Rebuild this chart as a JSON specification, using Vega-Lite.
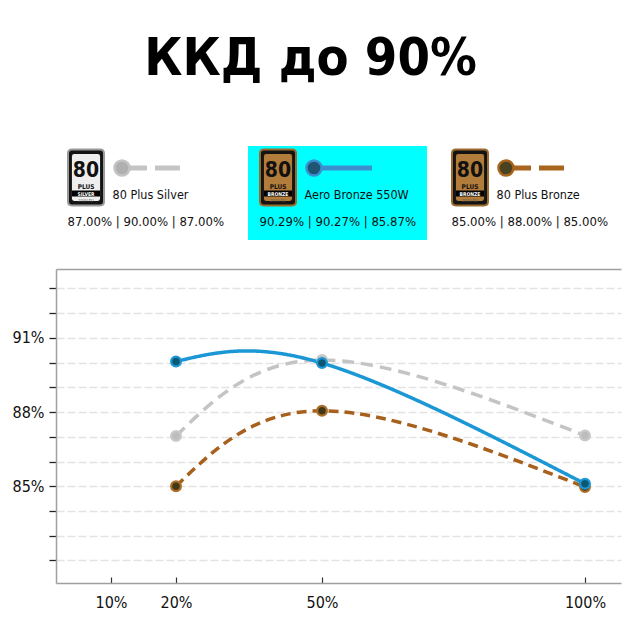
{
  "$schema": "https://vega.github.io/schema/vega-lite/v6.json",
  "background": "white",
  "padding": {"left": 12, "top": 32, "right": 10, "bottom": 10},
  "title": {"text": "ККД до 90%", "fontSize": 52, "font": "DejaVu Sans Condensed, sans-serif", "fontWeight": "bold", "color": "#000000", "anchor": "middle", "frame": "bounds", "dx": -6, "offset": 60},
  "config": {"view": {"stroke": null}},
  "bounds": "flush",
  "spacing": 29,
  "datasets": {
    "eff": [
      {"series": "80 Plus Silver", "load": 20, "eff": 87.03},
      {"series": "80 Plus Silver", "load": 50, "eff": 90.1},
      {"series": "80 Plus Silver", "load": 100, "eff": 87.05},
      {"series": "80 Plus Bronze", "load": 20, "eff": 85.0},
      {"series": "80 Plus Bronze", "load": 50, "eff": 88.05},
      {"series": "80 Plus Bronze", "load": 100, "eff": 84.97},
      {"series": "Aero Bronze 550W", "load": 20, "eff": 90.04},
      {"series": "Aero Bronze 550W", "load": 50, "eff": 89.98},
      {"series": "Aero Bronze 550W", "load": 100, "eff": 85.1}
    ],
    "legend": [
      {"series": "80 Plus Silver", "values": "87.00% | 90.00% | 87.00%", "tier": "SILVER"},
      {"series": "Aero Bronze 550W", "values": "90.29% | 90.27% | 85.87%", "tier": "BRONZE"},
      {"series": "80 Plus Bronze", "values": "85.00% | 88.00% | 85.00%", "tier": "BRONZE"}
    ]
  },
  "vconcat": [
    {
      "width": 563,
      "height": 94,
      "data": {"name": "legend"},
      "encoding": {
        "x": {"field": "series", "type": "nominal", "sort": ["80 Plus Silver", "Aero Bronze 550W", "80 Plus Bronze"], "scale": {"paddingInner": 0.0677, "paddingOuter": 0}, "axis": null}
      },
      "layer": [
        {"transform": [{"filter": "datum.series === 'Aero Bronze 550W'"}], "mark": {"type": "rect", "color": "#00ffff"}},
        {"mark": {"type": "point", "shape": "M-0.5,-1H0.5Q0.643,-1 0.643,-0.86V0.86Q0.643,1 0.5,1H-0.5Q-0.643,1 -0.643,0.86V-0.86Q-0.643,-1 -0.5,-1Z", "size": 3136, "filled": true, "opacity": 1, "strokeWidth": 2, "xOffset": -59.5, "yOffset": -15.5},
         "encoding": {"fill": {"value": "#141414"}, "stroke": {"condition": {"test": "datum.tier === 'SILVER'", "value": "#9a9a9a"}, "value": "#9b6a2c"}}},
        {"mark": {"type": "point", "shape": "M-0.5,-1H0.5Q0.6,-1 0.6,-0.9V0.9Q0.6,1 0.5,1H-0.5Q-0.6,1 -0.6,0.9V-0.9Q-0.6,-1 -0.5,-1Z", "size": 2200, "filled": true, "opacity": 1, "strokeWidth": 0, "xOffset": -59.5, "yOffset": -15.5},
         "encoding": {"fill": {"condition": {"test": "datum.tier === 'SILVER'", "value": "#eeeeee"}, "value": "#b27c3a"}}},
        {"mark": {"type": "point", "shape": "M-1,-0.214H1V0.214H-1Z", "size": 784, "filled": true, "opacity": 1, "strokeWidth": 0, "color": "#000000", "xOffset": -59.5, "yOffset": 0.5}},
        {"mark": {"type": "text", "align": "center", "baseline": "alphabetic", "dx": -59.5, "dy": -16, "fontSize": 21, "fontWeight": "bold", "font": "DejaVu Sans Condensed, sans-serif", "color": "#111111", "text": "80"}},
        {"mark": {"type": "text", "align": "center", "baseline": "alphabetic", "dx": -59.5, "dy": -4.5, "fontSize": 6.5, "fontWeight": "bold", "font": "DejaVu Sans Condensed, sans-serif", "color": "#111111", "text": "PLUS"}},
        {"mark": {"type": "text", "align": "center", "baseline": "middle", "dx": -59.5, "dy": 0.5, "fontSize": 5, "fontWeight": "bold", "font": "DejaVu Sans Condensed, sans-serif", "color": "#ffffff"},
         "encoding": {"text": {"field": "tier"}}},
        {"mark": {"type": "text", "align": "center", "baseline": "alphabetic", "dx": -59.5, "dy": 8.5, "fontSize": 4, "font": "DejaVu Sans Condensed, sans-serif", "color": "#555555", "text": "230V EU"}},
        {"mark": {"type": "point", "shape": "M-1,0L1,0", "size": 3364, "filled": false, "opacity": 1, "strokeWidth": 5, "strokeCap": "butt", "xOffset": 5.5, "yOffset": -25},
         "encoding": {
           "stroke": {"condition": [{"test": "datum.series === 'Aero Bronze 550W'", "value": "#3b8fcd"}, {"test": "datum.series === '80 Plus Bronze'", "value": "#a8651e"}], "value": "#c4c4c4"},
           "strokeDash": {"condition": {"test": "datum.series === 'Aero Bronze 550W'", "value": [1, 0]}, "value": [25, 8, 25]}
         }},
        {"mark": {"type": "point", "shape": "circle", "size": 227, "filled": true, "opacity": 1, "strokeWidth": 2.5, "xOffset": -23.5, "yOffset": -25},
         "encoding": {
           "fill": {"condition": [{"test": "datum.series === 'Aero Bronze 550W'", "value": "#1d5573"}, {"test": "datum.series === '80 Plus Bronze'", "value": "#4b4220"}], "value": "#b0b0b0"},
           "stroke": {"condition": [{"test": "datum.series === 'Aero Bronze 550W'", "value": "#3b8fcd"}, {"test": "datum.series === '80 Plus Bronze'", "value": "#a8651e"}], "value": "#c4c4c4"}
         }},
        {"mark": {"type": "text", "align": "left", "baseline": "alphabetic", "dx": -33, "dy": 6, "fontSize": 12.5, "font": "DejaVu Sans Condensed, sans-serif", "color": "#111111"},
         "encoding": {"text": {"field": "series"}}},
        {"mark": {"type": "text", "align": "left", "baseline": "alphabetic", "dx": -78, "dy": 33, "fontSize": 13, "font": "DejaVu Sans Condensed, sans-serif", "color": "#111111"},
         "encoding": {"text": {"field": "values"}}}
      ]
    },
    {
      "width": 565,
      "height": 314,
      "data": {"name": "eff"},
      "layer": [
        {
          "mark": {"type": "line", "interpolate": "natural", "strokeWidth": 3.5},
          "encoding": {
            "x": {"field": "load", "type": "quantitative",
                  "scale": {"type": "linear", "domain": [1.54, 10, 20, 50, 100, 106.8], "range": [0, 55, 120, 266, 529, 565], "nice": false, "zero": false},
                  "axis": {"values": [10, 20, 50, 100], "labelExpr": "datum.value + '%'", "title": null, "grid": false, "domainColor": "#a0a0a0", "domainWidth": 1.5, "tickColor": "#333333", "tickSize": -6, "tickWidth": 1.2, "labelFont": "DejaVu Sans Condensed, sans-serif", "labelFontSize": 16, "labelColor": "#111111", "labelPadding": 17}},
            "y": {"field": "eff", "type": "quantitative",
                  "scale": {"domain": [81.09, 93.78], "nice": false, "zero": false},
                  "axis": {"values": [82, 83, 84, 85, 86, 87, 88, 89, 90, 91, 92, 93], "labelExpr": "(datum.value === 85 || datum.value === 88 || datum.value === 91) ? datum.value + '%' : ''", "labelOverlap": false, "title": null, "grid": true, "gridDash": [8, 3], "gridColor": "#e3e3e3", "gridWidth": 1.3, "domainColor": "#a0a0a0", "domainWidth": 1.5, "tickColor": "#222222", "tickSize": 7, "tickWidth": 1.3, "labelFont": "DejaVu Sans Condensed, sans-serif", "labelFontSize": 16, "labelPadding": 5, "labelColor": "#111111"}},
            "color": {"field": "series", "type": "nominal", "scale": {"domain": ["80 Plus Silver", "80 Plus Bronze", "Aero Bronze 550W"], "range": ["#c4c4c4", "#a8601d", "#1a97d4"]}, "legend": null},
            "strokeDash": {"field": "series", "type": "nominal", "scale": {"domain": ["80 Plus Silver", "80 Plus Bronze", "Aero Bronze 550W"], "range": [[12, 7], [10, 6], [1, 0]]}, "legend": null}
          }
        },
        {
          "mark": {"type": "point", "filled": true, "size": 95, "strokeWidth": 2.2, "opacity": 1},
          "encoding": {
            "x": {"field": "load", "type": "quantitative",
                  "axis": {"orient": "top", "labels": false, "ticks": false, "grid": false, "title": null, "domainColor": "#a0a0a0", "domainWidth": 1.5}},
            "y": {"field": "eff", "type": "quantitative",
                  "axis": {"values": [82, 83, 84, 85, 86, 87, 88, 89, 90, 91, 92, 93], "labelExpr": "(datum.value === 85 || datum.value === 88 || datum.value === 91) ? datum.value + '%' : ''", "labelOverlap": false, "title": null, "grid": true, "gridDash": [8, 3], "gridColor": "#e3e3e3", "gridWidth": 1.3, "domainColor": "#a0a0a0", "domainWidth": 1.5, "tickColor": "#222222", "tickSize": 7, "tickWidth": 1.3, "labelFont": "DejaVu Sans Condensed, sans-serif", "labelFontSize": 16, "labelPadding": 5, "labelColor": "#111111"}},
            "fill": {"condition": [{"test": "datum.series === 'Aero Bronze 550W'", "value": "#0c5873"}, {"test": "datum.series === '80 Plus Bronze'", "value": "#3e3a18"}], "value": "#bdbdbd"},
            "stroke": {"condition": [{"test": "datum.series === 'Aero Bronze 550W'", "value": "#1a97d4"}, {"test": "datum.series === '80 Plus Bronze'", "value": "#ad6d25"}], "value": "#c9c9c9"}
          }
        }
      ],
      "resolve": {"axis": {"x": "independent"}}
    }
  ]
}
